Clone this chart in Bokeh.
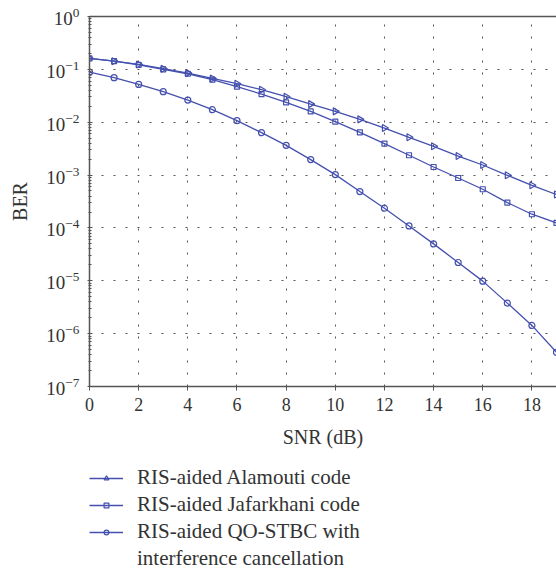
import numpy as np
from bokeh.plotting import figure
from bokeh.layouts import column
from bokeh.models import LinearAxis, FixedTicker, Legend, LegendItem, Range1d
from bokeh.embed import file_html
from bokeh.resources import INLINE

# ---- data ----
snr = list(range(20))
ber_alamouti = [0.161, 0.143, 0.124, 0.103, 0.0849, 0.0674, 0.0535, 0.0412, 0.0304, 0.0220,
                0.01604, 0.01132, 0.00776, 0.00518, 0.00350, 0.00229, 0.00155, 0.000991,
                0.000641, 0.000428]
ber_jafarkhani = [0.161, 0.143, 0.122, 0.0996, 0.0826, 0.0637, 0.0470, 0.0340, 0.0237, 0.0160,
                  0.01025, 0.00643, 0.00394, 0.00237, 0.00142, 0.000881, 0.000539, 0.000302,
                  0.0001816, 0.0001244]
ber_qostbc = [0.0886, 0.0695, 0.0519, 0.0378, 0.0262, 0.01727, 0.01070, 0.00635, 0.00365,
              0.00196, 0.00102, 0.000488, 0.000236, 0.0001092, 4.99e-5, 2.22e-5, 9.85e-6,
              3.78e-6, 1.43e-6, 4.43e-7]
x_ticks = [0, 2, 4, 6, 8, 10, 12, 14, 16, 18]
legend_labels = ["RIS-aided Alamouti code", "RIS-aided Jafarkhani code",
                 "RIS-aided QO-STBC with", "interference cancellation"]
x_label = "SNR (dB)"
y_label = "BER"

FONT = "Liberation Serif"
LINE = "#4450ae"
AX = "#555555"
TXT = "#333333"

series = [ber_alamouti, ber_jafarkhani, ber_qostbc]
markers = ["triangle", "square", "circle"]
angles = [-np.pi / 2, 0, 0]
sizes = [7, 5, 6]

p = figure(width=556, height=456, output_backend="svg", toolbar_location=None,
           y_axis_type="log", x_range=Range1d(0, 19), y_range=Range1d(1e-7, 1),
           min_border_left=88, min_border_top=16, min_border_right=0, min_border_bottom=70,
           background_fill_color="white", border_fill_color="white")
p.outline_line_color = None

# axes
p.xaxis.ticker = FixedTicker(ticks=x_ticks)
p.xaxis.axis_label = x_label
p.yaxis.axis_label = y_label
for ax in (p.xaxis[0], p.yaxis[0]):
    ax.axis_line_color = AX
    ax.axis_line_width = 1.5
    ax.major_tick_line_color = AX
    ax.minor_tick_line_color = AX
    ax.major_label_text_font = FONT
    ax.major_label_text_font_size = "18px"
    ax.major_label_text_color = TXT
    ax.axis_label_text_font = FONT
    ax.axis_label_text_font_size = "20px"
    ax.axis_label_text_font_style = "normal"
    ax.axis_label_text_color = TXT
p.yaxis.major_label_text_font_size = "19px"
p.xaxis.major_tick_in = 0
p.xaxis.major_tick_out = 4
p.xaxis.major_label_standoff = 7
p.xaxis.axis_label_standoff = 12
p.yaxis.major_tick_in = 3
p.yaxis.major_tick_out = 2
p.yaxis.minor_tick_in = 2
p.yaxis.minor_tick_out = 1
p.yaxis.major_label_standoff = 8
p.yaxis.axis_label_standoff = 12

top = LinearAxis(ticker=FixedTicker(ticks=[]), axis_line_color=AX, axis_line_width=1.5,
                 major_tick_line_color=None, minor_tick_line_color=None,
                 major_label_text_font_size="0px")
p.add_layout(top, "above")

# grid
for g in (p.xgrid[0], p.ygrid[0]):
    g.grid_line_color = "#555555"
    g.grid_line_dash = "2 10"
    g.grid_line_width = 1
p.xgrid.ticker = FixedTicker(ticks=x_ticks)

# series
for ys, mk, an, sz in zip(series, markers, angles, sizes):
    p.line(snr, ys, color=LINE, line_width=1.3)
    p.scatter(snr, ys, marker=mk, size=sz, angle=an,
              line_color=LINE, fill_color=None, line_width=1.2)

# legend panel (separate figure below the chart; same series, ranges put them out of view)
lg = figure(width=556, height=115, output_backend="svg", toolbar_location=None,
            x_axis_type=None, y_axis_type=None,
            x_range=Range1d(1000, 1001), y_range=Range1d(1000, 1001),
            min_border_left=89, min_border_top=9, min_border_right=0, min_border_bottom=0,
            background_fill_color="white", border_fill_color="white")
lg.outline_line_color = None
items = []
for lab, ys, mk, an, sz in zip(legend_labels, series, markers, angles, sizes):
    lr = lg.line(snr, ys, color=LINE, line_width=1.3)
    mr = lg.scatter(snr, ys, marker=mk, size=sz, angle=an,
                    line_color=LINE, fill_color=None, line_width=1.2)
    items.append(LegendItem(label=lab, renderers=[lr, mr]))
# continuation line of the third entry (no visible sample glyph)
blank = lg.line(snr, ber_qostbc, line_alpha=0)
items.append(LegendItem(label=legend_labels[3], renderers=[blank]))

legend = Legend(items=items, location="top_left")
legend.border_line_color = None
legend.background_fill_color = None
legend.background_fill_alpha = 0
legend.padding = 0
legend.margin = 0
legend.spacing = 2
legend.glyph_width = 34
legend.glyph_height = 12
legend.label_height = 20
legend.label_standoff = 14
legend.label_text_font = FONT
legend.label_text_font_size = "21px"
legend.label_text_color = TXT
lg.add_layout(legend, "center")

open("out.html", "w").write(file_html(column(p, lg, spacing=0), INLINE))
